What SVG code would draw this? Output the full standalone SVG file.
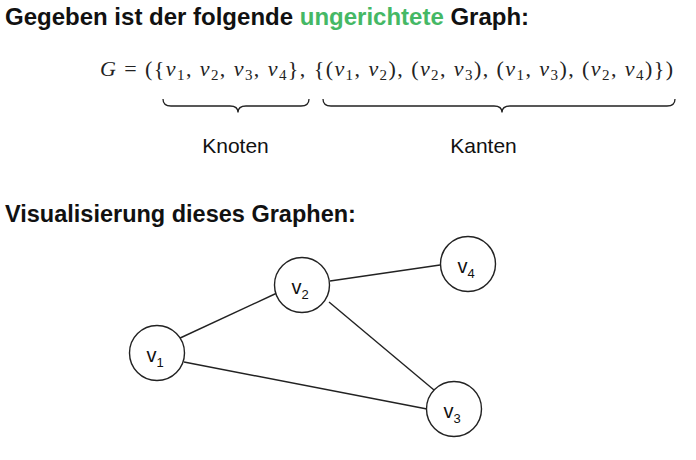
<svg xmlns="http://www.w3.org/2000/svg" width="696" height="460" viewBox="0 0 696 460">
<style>
.h{font-family:"Liberation Sans",Arial,sans-serif;font-weight:bold;fill:#111}
.m{font-family:"Liberation Serif","Times New Roman",serif;font-size:22px;fill:#222}
.i{font-style:italic}
.s{font-size:15px}
.lbl{font-family:"Liberation Sans",Arial,sans-serif;font-size:21px;fill:#111}
.brace{fill:none;stroke:#222;stroke-width:1.3}
.node circle{fill:#fff;stroke:#222;stroke-width:1.4}
.node text{font-family:"Liberation Sans",Arial,sans-serif;font-size:20px;fill:#111}
.node .sub{font-size:13px}
#edges line{stroke:#222;stroke-width:1.4}
</style>
<rect width="696" height="460" fill="#fff"/>
<text class="h" x="5" y="25" font-size="24">Gegeben ist der folgende <tspan fill="#45b865">ungerichtete</tspan> Graph:</text>
<text class="m" x="100" y="76" textLength="573" lengthAdjust="spacing"><tspan class="i">G</tspan> = ({<tspan class="i">v</tspan><tspan class="s" dy="4">1</tspan><tspan dy="-4">, </tspan><tspan class="i">v</tspan><tspan class="s" dy="4">2</tspan><tspan dy="-4">, </tspan><tspan class="i">v</tspan><tspan class="s" dy="4">3</tspan><tspan dy="-4">, </tspan><tspan class="i">v</tspan><tspan class="s" dy="4">4</tspan><tspan dy="-4">}, {(</tspan><tspan class="i">v</tspan><tspan class="s" dy="4">1</tspan><tspan dy="-4">, </tspan><tspan class="i">v</tspan><tspan class="s" dy="4">2</tspan><tspan dy="-4">), (</tspan><tspan class="i">v</tspan><tspan class="s" dy="4">2</tspan><tspan dy="-4">, </tspan><tspan class="i">v</tspan><tspan class="s" dy="4">3</tspan><tspan dy="-4">), (</tspan><tspan class="i">v</tspan><tspan class="s" dy="4">1</tspan><tspan dy="-4">, </tspan><tspan class="i">v</tspan><tspan class="s" dy="4">3</tspan><tspan dy="-4">), (</tspan><tspan class="i">v</tspan><tspan class="s" dy="4">2</tspan><tspan dy="-4">, </tspan><tspan class="i">v</tspan><tspan class="s" dy="4">4</tspan><tspan dy="-4">)})</tspan></text>
<path class="brace" d="M163,99 Q163,106 171,106 L230,106 Q238,106 238,112.5 Q238,106 246,106 L301,106 Q309,106 309,99"/>
<path class="brace" d="M323,99 Q323,106 331,106 L494,106 Q502,106 502,112.5 Q502,106 510,106 L667,106 Q675,106 675,99"/>
<text class="lbl" x="235.5" y="153" text-anchor="middle">Knoten</text>
<text class="lbl" x="483.5" y="153" text-anchor="middle">Kanten</text>
<text class="h" x="5" y="222" font-size="23.5">Visualisierung dieses Graphen:</text>
<g id="edges">
<line x1="178" y1="339" x2="277" y2="293"/>
<line x1="184" y1="362" x2="427" y2="409"/>
<line x1="329" y1="302" x2="434" y2="390"/>
<line x1="330" y1="281" x2="440" y2="265"/>
</g>
<g id="v1" class="node"><circle cx="157" cy="353" r="27.5"/><text x="146.5" y="362">v<tspan class="sub" dy="5">1</tspan></text></g>
<g id="v2" class="node"><circle cx="302" cy="285" r="27.5"/><text x="291.5" y="294">v<tspan class="sub" dy="5">2</tspan></text></g>
<g id="v3" class="node"><circle cx="454" cy="409" r="27.5"/><text x="443.5" y="418">v<tspan class="sub" dy="5">3</tspan></text></g>
<g id="v4" class="node"><circle cx="468" cy="264" r="27.5"/><text x="457.5" y="273">v<tspan class="sub" dy="5">4</tspan></text></g>
</svg>
